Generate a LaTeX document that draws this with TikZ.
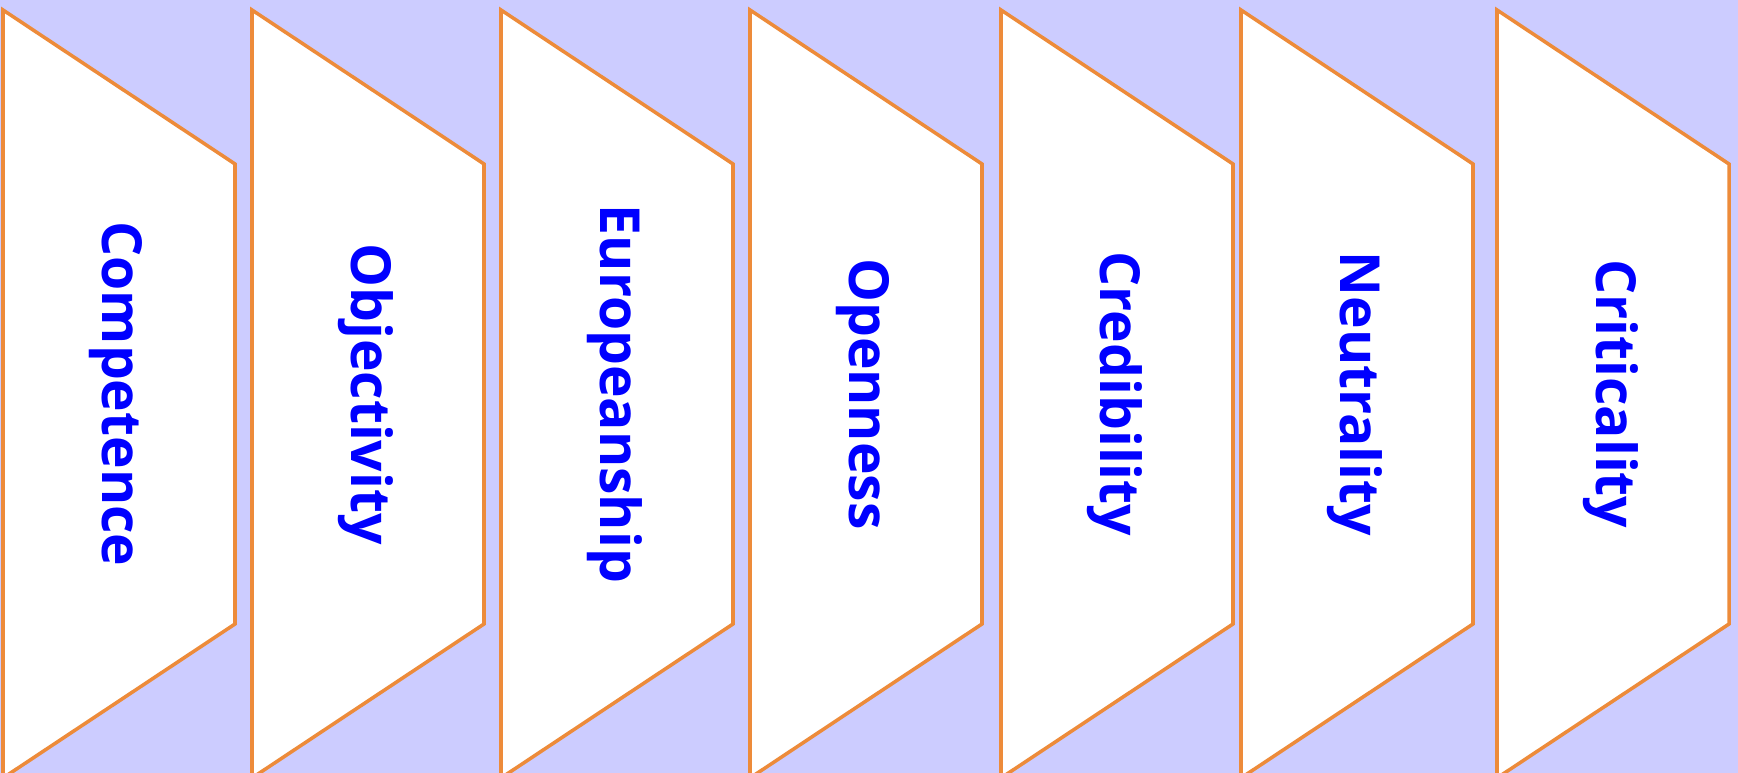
\documentclass[tikz,border=0pt]{standalone}
\usepackage{fontspec}
\setmainfont{Open Sans}
\definecolor{bgc}{RGB}{204,204,255}
\definecolor{edgec}{RGB}{237,139,58}
\definecolor{txtc}{RGB}{0,0,255}
\tikzset{
  panel/.style={draw=edgec, fill=white, line width=1pt, line join=miter},
  lbl/.style={rotate=-90, anchor=base, text=txtc, font=\fontsize{15.7pt}{19pt}\selectfont\bfseries, inner sep=0pt}
}
\begin{document}
\begin{tikzpicture}[x=0.01cm,y=0.01cm]
\useasboundingbox (0,0) rectangle (1738,773);
\fill[bgc] (0,0) rectangle (1738,773);
\clip (0,0) rectangle (1738,773);
\foreach \L in {3,252,501,750,1001,1241,1497}{
  \draw[panel] (\L,763) -- (\L+232,609) -- (\L+232,149) -- (\L,-5) -- cycle;
}
\node[lbl] (t1) at (102,379) {Competence};
\node[lbl] (t2) at (351,379) {Objectivity};
\node[lbl] (t3) at (600,379) {Europeanship};
\node[lbl] (t4) at (849,379) {Openness};
\node[lbl] (t5) at (1100,379) {Credibility};
\node[lbl] (t6) at (1340,379) {Neutrality};
\node[lbl] (t7) at (1596,379) {Criticality};
\end{tikzpicture}
\end{document}
